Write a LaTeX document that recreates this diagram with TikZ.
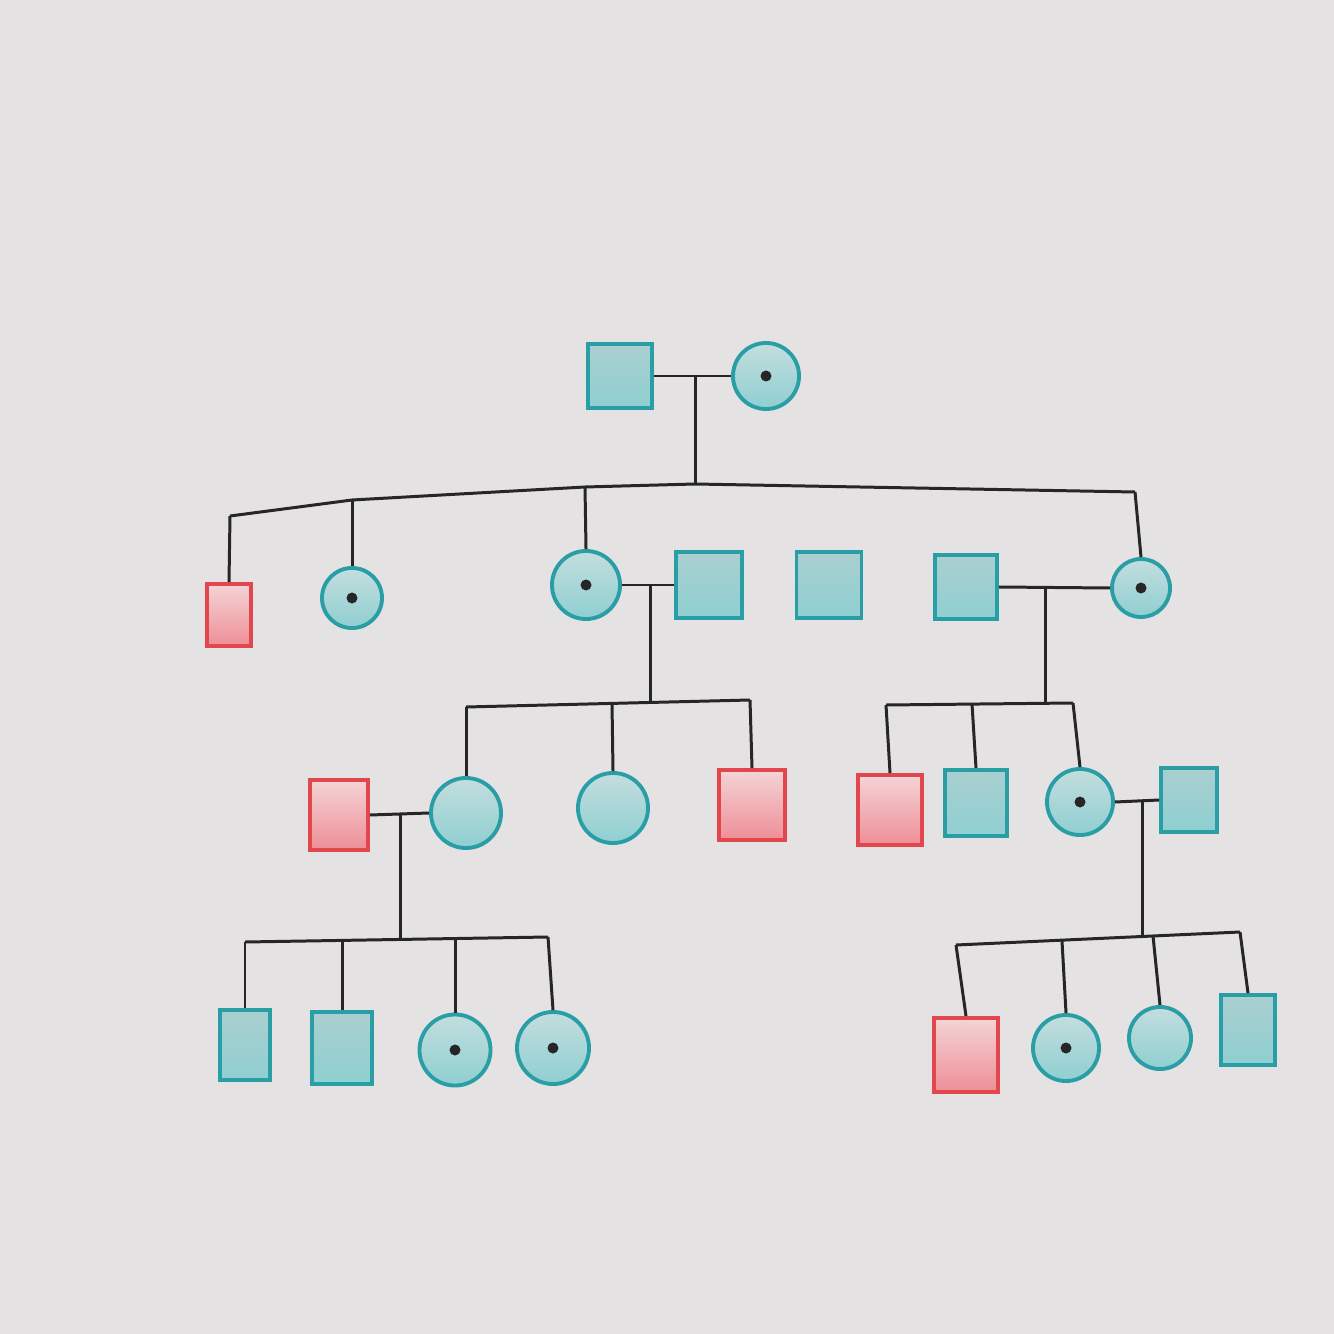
\documentclass[tikz,border=0pt]{standalone}
\usepackage{tikz}
\usetikzlibrary{positioning}

\definecolor{tealline}{HTML}{2A9EA5}
\definecolor{tealtop}{HTML}{AACFD0}
\definecolor{tealbot}{HTML}{8FCFD1}
\definecolor{redline}{HTML}{E2474E}
\definecolor{redtop}{HTML}{F4D4D6}
\definecolor{redbot}{HTML}{EE8E96}
\definecolor{paper}{HTML}{E4E2E3}

\begin{document}
\begin{tikzpicture}[
    x=0.01cm, y=-0.01cm,
    male/.style={draw=tealline, line width=1.1pt, rectangle, top color=tealtop, bottom color=tealbot, minimum width=0.64cm, minimum height=0.64cm, inner sep=0pt},
    female/.style={draw=tealline, line width=1.1pt, circle, top color=tealtop!70!white, bottom color=tealbot, minimum size=0.66cm, inner sep=0pt},
    affected/.style={male, draw=redline, top color=redtop, bottom color=redbot},
    carrier/.style={path picture={\fill[black!85] (path picture bounding box.center) circle (0.055cm);}},
    link/.style={draw=black!85, line width=0.85pt}
]
    \useasboundingbox (0,0) rectangle (1334,1334);
    \fill[paper] (0,0) rectangle (1334,1334);

    % Generation I
    \node[male] (g1m) at (620,376) {};
    \node[female, carrier] (g1f) at (766,376) {};

    % Generation II
    \node[affected, minimum width=0.44cm, minimum height=0.62cm] (ii1) at (229,615) {};
    \node[female, carrier, minimum size=0.60cm] (ii2) at (352,598) {};
    \node[female, carrier, minimum size=0.68cm] (ii3) at (586,585) {};
    \node[male, minimum size=0.66cm] (ii3s) at (709,585) {};
    \node[male, minimum width=0.65cm, minimum height=0.66cm] (ii4) at (829,585) {};
    \node[male, minimum width=0.62cm] (ii5s) at (966,587) {};
    \node[female, carrier, minimum size=0.58cm] (ii5) at (1141,588) {};

    % Generation III
    \node[affected, minimum width=0.58cm, minimum height=0.70cm] (iii1s) at (339,815) {};
    \node[female, minimum size=0.70cm] (iii1) at (466,813) {};
    \node[female, minimum size=0.70cm] (iii2) at (613,808) {};
    \node[affected, minimum width=0.66cm, minimum height=0.70cm] (iii3) at (752,805) {};
    \node[affected, minimum width=0.64cm, minimum height=0.70cm] (iii4) at (890,810) {};
    \node[male, minimum width=0.62cm, minimum height=0.66cm] (iii5) at (976,803) {};
    \node[female, carrier] (iii6) at (1080,802) {};
    \node[male, minimum width=0.56cm] (iii6s) at (1189,800) {};

    % Generation IV
    \node[male, minimum width=0.50cm, minimum height=0.70cm] (iv1) at (245,1045) {};
    \node[male, minimum width=0.60cm, minimum height=0.72cm] (iv2) at (342,1048) {};
    \node[female, carrier, minimum size=0.71cm] (iv3) at (455,1050) {};
    \node[female, carrier, minimum size=0.72cm] (iv4) at (553,1048) {};
    \node[affected, minimum width=0.64cm, minimum height=0.74cm] (iv5) at (966,1055) {};
    \node[female, carrier] (iv6) at (1066,1048) {};
    \node[female, minimum size=0.62cm] (iv7) at (1160,1038) {};
    \node[male, minimum width=0.54cm, minimum height=0.70cm] (iv8) at (1248,1030) {};

    % Line junctions
    \coordinate (m1) at (695,376);
    \coordinate (m2) at (650,585);
    \coordinate (m3) at (1045,587);
    \coordinate (m4) at (400,814);
    \coordinate (m5) at (1142,801);

    \coordinate (s1a) at (230,516);
    \coordinate (s1b) at (352,500);
    \coordinate (s1c) at (585,487);
    \coordinate (s1m) at (695,484);
    \coordinate (s1e) at (1135,492);

    \coordinate (s2a) at (466,707);
    \coordinate (s2b) at (612,703);
    \coordinate (s2m) at (650,702);
    \coordinate (s2c) at (750,700);

    \coordinate (s3a) at (886,705);
    \coordinate (s3b) at (972,704);
    \coordinate (s3m) at (1045,703);
    \coordinate (s3c) at (1073,703);

    \coordinate (s4a) at (245,942);
    \coordinate (s4b) at (342,941);
    \coordinate (s4m) at (400,940);
    \coordinate (s4c) at (455,939);
    \coordinate (s4d) at (548,937);

    \coordinate (s5a) at (956,945);
    \coordinate (s5b) at (1062,941);
    \coordinate (s5c) at (1153,936);
    \coordinate (s5m) at (1142,936);
    \coordinate (s5d) at (1240,932);

    % Marriage lines
    \draw[link] (g1m.east) -- (g1f.west);
    \draw[link] (ii3.east) -- (ii3s.west);
    \draw[link] (ii5s.east) -- (ii5.west);
    \draw[link] (iii1s.east) -- (iii1.west);
    \draw[link] (iii6.east) -- (iii6s.west);

    % Descent lines
    \draw[link] (m1) -- (s1m);
    \draw[link] (m2) -- (s2m);
    \draw[link] (m3) -- (s3m);
    \draw[link] (m4) -- (s4m);
    \draw[link] (m5) -- (s5m);

    % Sibship lines
    \draw[link, line join=round] (s1a) -- (s1b) -- (s1c) -- (s1m) -- (s1e);
    \draw[link] (s2a) -- (s2c);
    \draw[link] (s3a) -- (s3c);
    \draw[link] (s4a) -- (s4d);
    \draw[link] (s5a) -- (s5d);

    % Children
    \draw[link] (s1a) -- (ii1.north);
    \draw[link] (s1b) -- (ii2.north);
    \draw[link] (s1c) -- (ii3.north);
    \draw[link] (s1e) -- (ii5.north);

    \draw[link] (s2a) -- (iii1.north);
    \draw[link] (s2b) -- (iii2.north);
    \draw[link] (s2c) -- (iii3.north);

    \draw[link] (s3a) -- (iii4.north);
    \draw[link] (s3b) -- (iii5.north);
    \draw[link] (s3c) -- (iii6.north);

    \draw[link] (s4a) -- (iv1.north);
    \draw[link] (s4b) -- (iv2.north);
    \draw[link] (s4c) -- (iv3.north);
    \draw[link] (s4d) -- (iv4.north);

    \draw[link] (s5a) -- (iv5.north);
    \draw[link] (s5b) -- (iv6.north);
    \draw[link] (s5c) -- (iv7.north);
    \draw[link] (s5d) -- (iv8.north);
\end{tikzpicture}
\end{document}
